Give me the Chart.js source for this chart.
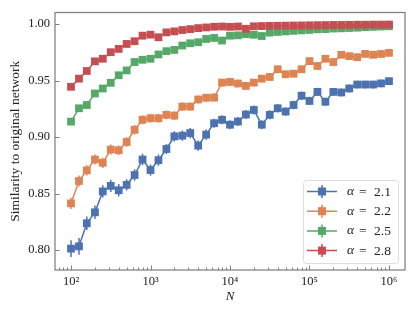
<!DOCTYPE html>
<html>
<head>
<meta charset="utf-8">
<script src="https://cdn.jsdelivr.net/npm/chart.js@4/dist/chart.umd.min.js"></script>
<style>
  html, body { margin: 0; padding: 0; background: #fff; }
  #c { display: block; }
</style>
</head>
<body>
<canvas id="c" width="415" height="314"></canvas>
<script>
// network sizes N (10 per decade)
const N = [100, 126, 158, 200, 251, 316, 398, 501, 631, 794,
  1000, 1259, 1585, 1995, 2512, 3162, 3981, 5012, 6310, 7943,
  10000, 12589, 15849, 19953, 25119, 31623, 39811, 50119, 63096, 79433,
  100000, 125893, 158489, 199526, 251189, 316228, 398107, 501187, 630957, 794328,
  1000000];

const alphas = ['2.1', '2.2', '2.5', '2.8'];
const colors = ['#4c72b0', '#dd8452', '#55a868', '#c44e52'];

// similarity per alpha
const sim21 = [0.8014, 0.8034, 0.8238, 0.8335, 0.8520, 0.8569, 0.8530, 0.8578, 0.8665, 0.8802,
  0.8709, 0.8796, 0.8895, 0.9007, 0.9013, 0.9036, 0.8925, 0.9022, 0.9123, 0.9153,
  0.9110, 0.9138, 0.9200, 0.9240, 0.9110, 0.9197, 0.9255, 0.9226, 0.9284, 0.9366,
  0.9320, 0.9400, 0.9313, 0.9400, 0.9395, 0.9430, 0.9465, 0.9465, 0.9465, 0.9475,
  0.9495];
const sim22 = [0.8414, 0.8612, 0.8706, 0.8802, 0.8773, 0.8890, 0.8884, 0.8957, 0.9065, 0.9153,
  0.9167, 0.9167, 0.9197, 0.9190, 0.9270, 0.9270, 0.9333, 0.9348, 0.9350, 0.9482,
  0.9488, 0.9474, 0.9453, 0.9482, 0.9517, 0.9532, 0.9600, 0.9556, 0.9561, 0.9600,
  0.9672, 0.9629, 0.9693, 0.9664, 0.9728, 0.9716, 0.9707, 0.9736, 0.9728, 0.9735,
  0.9745];
const sim25 = [0.9137, 0.9255, 0.9284, 0.9386, 0.9430, 0.9480, 0.9547, 0.9590, 0.9664, 0.9684,
  0.9693, 0.9731, 0.9760, 0.9771, 0.9810, 0.9830, 0.9839, 0.9868, 0.9877, 0.9854,
  0.9897, 0.9900, 0.9910, 0.9905, 0.9894, 0.9924, 0.9930, 0.9935, 0.9940, 0.9944,
  0.9948, 0.9953, 0.9955, 0.9960, 0.9962, 0.9965, 0.9968, 0.9972, 0.9975, 0.9978,
  0.9980];
const sim28 = [0.9445, 0.9517, 0.9585, 0.9670, 0.9693, 0.9751, 0.9780, 0.9824, 0.9848, 0.9897,
  0.9906, 0.9883, 0.9926, 0.9935, 0.9947, 0.9955, 0.9964, 0.9970, 0.9976, 0.9978,
  0.9975, 0.9978, 0.9958, 0.9980, 0.9982, 0.9984, 0.9985, 0.9986, 0.9987, 0.9988,
  0.9989, 0.9990, 0.9991, 0.9992, 0.9992, 0.9993, 0.9994, 0.9994, 0.9995, 0.9995,
  0.9996];

// error bar half widths
const err21 = [0.0075, 0.0075, 0.0060, 0.0060, 0.0055, 0.0055, 0.0055, 0.0050, 0.0050, 0.0050,
  0.0050, 0.0050, 0.0045, 0.0045, 0.0045, 0.0045, 0.0045, 0.0045, 0.0040, 0.0040,
  0.0040, 0.0040, 0.0040, 0.0040, 0.0040, 0.0040, 0.0038, 0.0038, 0.0038, 0.0038,
  0.0036, 0.0036, 0.0036, 0.0035, 0.0035, 0.0035, 0.0034, 0.0034, 0.0034, 0.0033,
  0.0033];
const err22 = [0.0050, 0.0048, 0.0046, 0.0045, 0.0045, 0.0044, 0.0043, 0.0042, 0.0042, 0.0040,
  0.0040, 0.0040, 0.0038, 0.0038, 0.0038, 0.0036, 0.0036, 0.0035, 0.0035, 0.0034,
  0.0034, 0.0034, 0.0033, 0.0033, 0.0032, 0.0032, 0.0032, 0.0031, 0.0031, 0.0031,
  0.0030, 0.0030, 0.0030, 0.0030, 0.0029, 0.0029, 0.0029, 0.0028, 0.0028, 0.0028,
  0.0028];
const err25 = [0.0030, 0.0030, 0.0029, 0.0028, 0.0028, 0.0027, 0.0027, 0.0026, 0.0026, 0.0025,
  0.0025, 0.0024, 0.0024, 0.0023, 0.0023, 0.0022, 0.0022, 0.0021, 0.0021, 0.0020,
  0.0020, 0.0020, 0.0019, 0.0019, 0.0019, 0.0018, 0.0018, 0.0018, 0.0017, 0.0017,
  0.0017, 0.0016, 0.0016, 0.0016, 0.0015, 0.0015, 0.0015, 0.0015, 0.0014, 0.0014,
  0.0014];
const err28 = [0.0028, 0.0027, 0.0026, 0.0025, 0.0024, 0.0023, 0.0022, 0.0021, 0.0020, 0.0019,
  0.0018, 0.0018, 0.0017, 0.0017, 0.0016, 0.0016, 0.0015, 0.0015, 0.0015, 0.0014,
  0.0014, 0.0014, 0.0013, 0.0013, 0.0013, 0.0013, 0.0012, 0.0012, 0.0012, 0.0012,
  0.0011, 0.0011, 0.0011, 0.0011, 0.0010, 0.0010, 0.0010, 0.0010, 0.0010, 0.0010,
  0.0010];

const yTicks = [0.80, 0.85, 0.90, 0.95, 1.00];
const xTicks = [100, 1000, 10000, 100000, 1000000];
const xTickLabels = ['10\u00b2', '10\u00b3', '10\u2074', '10\u2075', '10\u2076'];

const sims = [sim21, sim22, sim25, sim28];
const errs = [err21, err22, err25, err28];

const FONT = "'Liberation Serif', 'DejaVu Serif', serif";
const AXIS_COLOR = '#808080';

const datasets = sims.map((s, k) => ({
  label: 'α = ' + alphas[k],
  data: N.map((n, i) => ({x: n, y: s[i]})),
  err: errs[k],
  borderColor: colors[k],
  backgroundColor: colors[k],
  borderWidth: 1.5,
  pointStyle: 'rect',
  pointRadius: 5.5,
  pointBorderWidth: 0,
  pointBackgroundColor: colors[k],
  order: 3 - k,
  clip: false
}));

// error bars, inward ticks, frame and legend
const decor = {
  id: 'decor',
  beforeDatasetDraw(chart, args) {
    const ctx = chart.ctx;
    const ds = chart.data.datasets[args.index];
    const y = chart.scales.y;
    ctx.save();
    ctx.strokeStyle = ds.borderColor;
    ctx.lineWidth = 1.5;
    ctx.beginPath();
    args.meta.data.forEach((pt, j) => {
      const v = ds.data[j].y, e = ds.err[j];
      ctx.moveTo(pt.x, y.getPixelForValue(v + e));
      ctx.lineTo(pt.x, y.getPixelForValue(v - e));
    });
    ctx.stroke();
    ctx.restore();
  },
  afterDatasetsDraw(chart) {
    const ctx = chart.ctx;
    const a = chart.chartArea;
    const xs = chart.scales.x, ys = chart.scales.y;
    ctx.save();
    ctx.strokeStyle = AXIS_COLOR;
    ctx.lineWidth = 1;
    ctx.beginPath();
    // y ticks inward
    yTicks.forEach(v => {
      const py = Math.round(ys.getPixelForValue(v)) + 0.5;
      ctx.moveTo(a.left, py); ctx.lineTo(a.left + 4.5, py);
    });
    // x major + minor ticks inward
    for (let d = 1; d <= 6; d++) {
      for (let m = 1; m <= 9; m++) {
        const v = m * Math.pow(10, d);
        if (v < xs.min || v > xs.max) continue;
        const px = Math.round(xs.getPixelForValue(v)) + 0.5;
        const len = m === 1 ? 4.5 : 2.5;
        ctx.moveTo(px, a.bottom); ctx.lineTo(px, a.bottom - len);
      }
    }
    ctx.stroke();
    ctx.lineWidth = 1.25;
    ctx.strokeRect(a.left, a.top, a.right - a.left, a.bottom - a.top);
    ctx.restore();

    // legend
    const bx = 303, by = 180, bw = 95, bh = 83;
    ctx.save();
    ctx.beginPath();
    ctx.roundRect(bx + 0.5, by + 0.5, bw, bh, 3);
    ctx.fillStyle = 'rgba(255,255,255,0.85)';
    ctx.fill();
    ctx.strokeStyle = '#dcdcdc';
    ctx.lineWidth = 1;
    ctx.stroke();
    alphas.forEach((al, k) => {
      const ry = 191.5 + k * 19.7;
      ctx.strokeStyle = colors[k];
      ctx.fillStyle = colors[k];
      ctx.lineWidth = 1.5;
      ctx.beginPath();
      ctx.moveTo(307, ry); ctx.lineTo(337, ry);
      ctx.moveTo(322, ry - 6.5); ctx.lineTo(322, ry + 6.5);
      ctx.stroke();
      ctx.fillRect(318, ry - 4, 8, 8);
      ctx.fillStyle = '#222';
      ctx.textBaseline = 'middle';
      ctx.font = 'italic 13.5px ' + FONT;
      ctx.fillText('α', 347, ry);
      ctx.font = '13.5px ' + FONT;
      ctx.fillText('=', 359, ry + 0.5);
      ctx.fillText(al, 374, ry + 0.5);
    });
    ctx.restore();
  }
};

new Chart(document.getElementById('c'), {
  type: 'line',
  data: {datasets},
  options: {
    responsive: false,
    animation: false,
    devicePixelRatio: 1,
    layout: {padding: {left: 0, right: 10, top: 10, bottom: 0}},
    plugins: {legend: {display: false}, tooltip: {enabled: false}},
    scales: {
      x: {
        type: 'logarithmic',
        min: 62.9,
        max: 1590000,
        grid: {display: false, drawTicks: false},
        border: {display: false},
        afterBuildTicks: s => { s.ticks = xTicks.map(v => ({value: v})); },
        afterFit: s => { s.height = 44; },
        ticks: {
          autoSkip: false, maxRotation: 0, padding: 4, color: '#222',
          font: {family: FONT, size: 12.5},
          callback: v => xTickLabels[xTicks.indexOf(v)]
        },
        title: {display: true, text: 'N', color: '#222',
          font: {family: FONT, size: 13, style: 'italic'},
          padding: {top: 0, bottom: 10}}
      },
      y: {
        min: 0.7825,
        max: 1.0102,
        grid: {display: false, drawTicks: false},
        border: {display: false},
        afterBuildTicks: s => { s.ticks = yTicks.map(v => ({value: v})); },
        afterFit: s => { s.width = 55; },
        ticks: {
          padding: 5, color: '#222',
          font: {family: FONT, size: 12.5},
          callback: v => v.toFixed(2)
        },
        title: {display: true, text: 'Similarity to original network', color: '#222',
          font: {family: FONT, size: 13.5},
          padding: {top: 7, bottom: 0}}
      }
    }
  },
  plugins: [decor]
});
</script>
</body>
</html>
